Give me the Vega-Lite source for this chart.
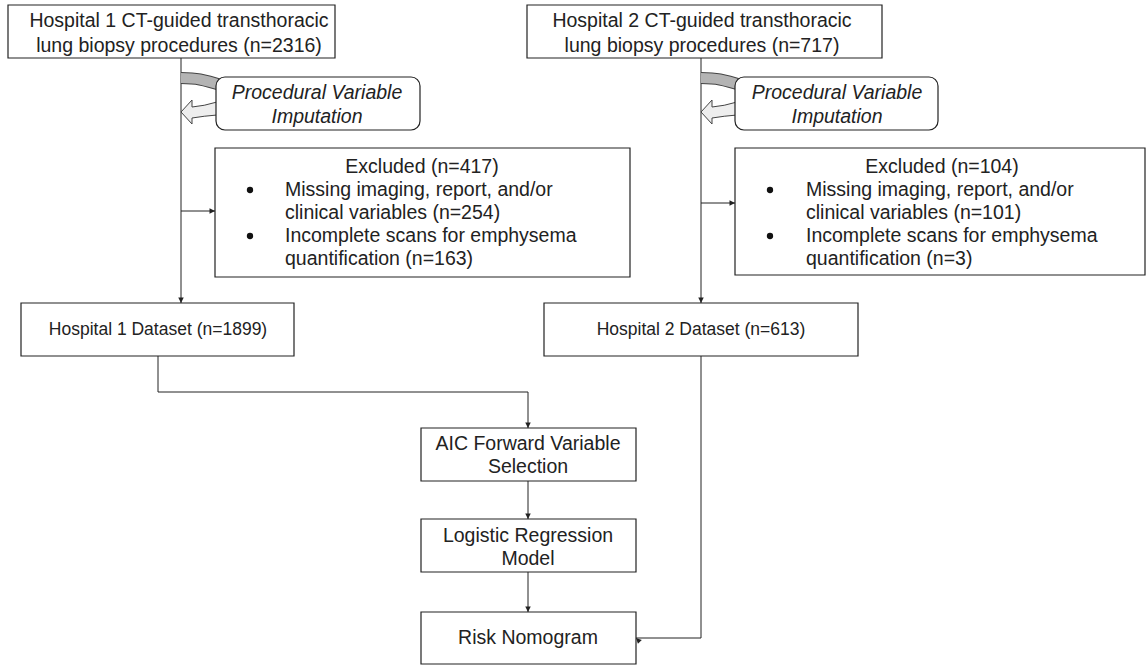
{
  "$schema": "https://vega.github.io/schema/vega-lite/v6.json",
  "width": 1146,
  "height": 665,
  "autosize": {"type": "fit", "contains": "padding"},
  "padding": 0,
  "background": "white",
  "config": {"view": {"stroke": null}},
  "datasets": {
    "boxes": [
      {"id": "b1", "x": 8, "x2": 335, "y": 5, "y2": 58},
      {"id": "b2", "x": 527, "x2": 882, "y": 5, "y2": 58},
      {"id": "ex1", "x": 215, "x2": 630, "y": 148, "y2": 277},
      {"id": "ex2", "x": 735, "x2": 1145, "y": 148, "y2": 275},
      {"id": "d1", "x": 21, "x2": 294, "y": 303, "y2": 356},
      {"id": "d2", "x": 544, "x2": 858, "y": 303, "y2": 356},
      {"id": "aic", "x": 421, "x2": 636, "y": 428, "y2": 481},
      {"id": "lr", "x": 421, "x2": 636, "y": 519, "y2": 572},
      {"id": "rn", "x": 421, "x2": 636, "y": 612, "y2": 664}
    ],
    "rounded": [
      {"id": "imp1", "x": 216, "x2": 420, "y": 77, "y2": 130},
      {"id": "imp2", "x": 735, "x2": 938, "y": 77, "y2": 130}
    ],
    "lines": [
      {"seg": "s1", "o": 1, "x": 181, "y": 58},
      {"seg": "s1", "o": 2, "x": 181, "y": 303},
      {"seg": "s1b", "o": 1, "x": 181, "y": 211},
      {"seg": "s1b", "o": 2, "x": 215, "y": 211},
      {"seg": "s2", "o": 1, "x": 701, "y": 58},
      {"seg": "s2", "o": 2, "x": 701, "y": 303},
      {"seg": "s2b", "o": 1, "x": 701, "y": 203},
      {"seg": "s2b", "o": 2, "x": 735, "y": 203},
      {"seg": "s3", "o": 1, "x": 158, "y": 356},
      {"seg": "s3", "o": 2, "x": 158, "y": 392},
      {"seg": "s3", "o": 3, "x": 528, "y": 392},
      {"seg": "s3", "o": 4, "x": 528, "y": 428},
      {"seg": "s4", "o": 1, "x": 528, "y": 481},
      {"seg": "s4", "o": 2, "x": 528, "y": 519},
      {"seg": "s5", "o": 1, "x": 528, "y": 572},
      {"seg": "s5", "o": 2, "x": 528, "y": 612},
      {"seg": "s6", "o": 1, "x": 701, "y": 356},
      {"seg": "s6", "o": 2, "x": 701, "y": 638},
      {"seg": "s6", "o": 3, "x": 636, "y": 638}
    ],
    "arrows": [
      {"x": 181, "y": 303, "dir": "down"},
      {"x": 215, "y": 211, "dir": "right"},
      {"x": 701, "y": 303, "dir": "down"},
      {"x": 735, "y": 203, "dir": "right"},
      {"x": 528, "y": 428, "dir": "down"},
      {"x": 528, "y": 519, "dir": "down"},
      {"x": 528, "y": 612, "dir": "down"},
      {"x": 636, "y": 638, "dir": "left"}
    ],
    "arcs": [
      {"arc": "a1", "o": 1, "x": 181, "y": 78},
      {"arc": "a1", "o": 2, "x": 200, "y": 79.5},
      {"arc": "a1", "o": 3, "x": 224, "y": 86},
      {"arc": "a2", "o": 1, "x": 701, "y": 78},
      {"arc": "a2", "o": 2, "x": 720, "y": 79.5},
      {"arc": "a2", "o": 3, "x": 744, "y": 86}
    ],
    "hollow": [
      {"x": 198, "y": 112},
      {"x": 718, "y": 112}
    ],
    "bullets": [
      {"x": 250, "y": 190},
      {"x": 250, "y": 236},
      {"x": 770, "y": 190},
      {"x": 770, "y": 236}
    ],
    "centerText": [
      {"x": 179, "y": 21, "label": "Hospital 1 CT-guided transthoracic"},
      {"x": 179, "y": 46, "label": "lung biopsy procedures (n=2316)"},
      {"x": 702, "y": 21, "label": "Hospital 2 CT-guided transthoracic"},
      {"x": 702, "y": 46, "label": "lung biopsy procedures (n=717)"},
      {"x": 422, "y": 167, "label": "Excluded (n=417)"},
      {"x": 942, "y": 167, "label": "Excluded (n=104)"},
      {"x": 528, "y": 444, "label": "AIC Forward Variable"},
      {"x": 528, "y": 467, "label": "Selection"},
      {"x": 528, "y": 536, "label": "Logistic Regression"},
      {"x": 528, "y": 559, "label": "Model"},
      {"x": 528, "y": 638, "label": "Risk Nomogram"}
    ],
    "datasetText": [
      {"x": 158, "y": 330, "label": "Hospital 1 Dataset (n=1899)"},
      {"x": 701, "y": 330, "label": "Hospital 2 Dataset (n=613)"}
    ],
    "italicText": [
      {"x": 317, "y": 93, "label": "Procedural Variable"},
      {"x": 317, "y": 117, "label": "Imputation"},
      {"x": 837, "y": 93, "label": "Procedural Variable"},
      {"x": 837, "y": 117, "label": "Imputation"}
    ],
    "itemText": [
      {"x": 285, "y": 190, "label": "Missing imaging, report, and/or"},
      {"x": 285, "y": 213, "label": "clinical variables (n=254)"},
      {"x": 285, "y": 236, "label": "Incomplete scans for emphysema"},
      {"x": 285, "y": 259, "label": "quantification (n=163)"},
      {"x": 806, "y": 190, "label": "Missing imaging, report, and/or"},
      {"x": 806, "y": 213, "label": "clinical variables (n=101)"},
      {"x": 806, "y": 236, "label": "Incomplete scans for emphysema"},
      {"x": 806, "y": 259, "label": "quantification (n=3)"}
    ]
  },
  "layer": [
    {
      "data": {"name": "lines"},
      "mark": {"type": "line", "stroke": "#222", "strokeWidth": 1},
      "encoding": {
        "x": {"field": "x", "type": "quantitative", "scale": {"domain": [0, 1146], "nice": false, "zero": false}, "axis": null},
        "y": {"field": "y", "type": "quantitative", "scale": {"domain": [0, 665], "nice": false, "zero": false, "reverse": true}, "axis": null},
        "detail": {"field": "seg", "type": "nominal"},
        "order": {"field": "o", "type": "quantitative"}
      }
    },
    {
      "data": {"name": "arcs"},
      "mark": {"type": "line", "stroke": "#444", "strokeWidth": 12, "strokeCap": "butt", "interpolate": "natural"},
      "encoding": {
        "x": {"field": "x", "type": "quantitative", "axis": null},
        "y": {"field": "y", "type": "quantitative", "axis": null},
        "detail": {"field": "arc", "type": "nominal"},
        "order": {"field": "o", "type": "quantitative"}
      }
    },
    {
      "data": {"name": "arcs"},
      "mark": {"type": "line", "stroke": "#b4b4b4", "strokeWidth": 10, "strokeCap": "butt", "interpolate": "natural"},
      "encoding": {
        "x": {"field": "x", "type": "quantitative", "axis": null},
        "y": {"field": "y", "type": "quantitative", "axis": null},
        "detail": {"field": "arc", "type": "nominal"},
        "order": {"field": "o", "type": "quantitative"}
      }
    },
    {
      "data": {"name": "hollow"},
      "mark": {"type": "point", "filled": true, "fill": "#eeeeee", "fillOpacity": 1, "stroke": "#444", "strokeWidth": 1, "opacity": 1, "size": 1600, "shape": "M-0.85,0L-0.3,-0.6L-0.3,-0.25Q0.3,-0.3 0.95,-0.5L0.95,0.15Q0.3,0.2 -0.3,0.3L-0.3,0.6Z"},
      "encoding": {
        "x": {"field": "x", "type": "quantitative", "axis": null},
        "y": {"field": "y", "type": "quantitative", "axis": null}
      }
    },
    {
      "data": {"name": "boxes"},
      "mark": {"type": "rect", "fill": "white", "stroke": "#222", "strokeWidth": 1.2},
      "encoding": {
        "x": {"field": "x", "type": "quantitative", "axis": null},
        "x2": {"field": "x2"},
        "y": {"field": "y", "type": "quantitative", "axis": null},
        "y2": {"field": "y2"}
      }
    },
    {
      "data": {"name": "rounded"},
      "mark": {"type": "rect", "fill": "white", "stroke": "#222", "strokeWidth": 1.2, "cornerRadius": 9},
      "encoding": {
        "x": {"field": "x", "type": "quantitative", "axis": null},
        "x2": {"field": "x2"},
        "y": {"field": "y", "type": "quantitative", "axis": null},
        "y2": {"field": "y2"}
      }
    },
    {
      "data": {"name": "arrows"},
      "mark": {"type": "point", "filled": true, "fill": "#222", "opacity": 1, "strokeWidth": 0, "size": 30, "shape": "M-1,-2L1,-2L0,0Z"},
      "encoding": {
        "x": {"field": "x", "type": "quantitative", "axis": null},
        "y": {"field": "y", "type": "quantitative", "axis": null},
        "angle": {"field": "dir", "type": "nominal", "scale": {"domain": ["down", "left", "right"], "range": [0, 270, 90]}, "legend": null}
      }
    },
    {
      "data": {"name": "bullets"},
      "mark": {"type": "point", "shape": "circle", "filled": true, "fill": "#111", "opacity": 1, "strokeWidth": 0, "size": 40},
      "encoding": {
        "x": {"field": "x", "type": "quantitative", "axis": null},
        "y": {"field": "y", "type": "quantitative", "axis": null}
      }
    },
    {
      "data": {"name": "centerText"},
      "mark": {"type": "text", "font": "Liberation Sans", "fontSize": 19.5, "fill": "#222", "align": "center", "baseline": "middle"},
      "encoding": {
        "x": {"field": "x", "type": "quantitative", "axis": null},
        "y": {"field": "y", "type": "quantitative", "axis": null},
        "text": {"field": "label", "type": "nominal"}
      }
    },
    {
      "data": {"name": "datasetText"},
      "mark": {"type": "text", "font": "Liberation Sans", "fontSize": 17.5, "fill": "#222", "align": "center", "baseline": "middle"},
      "encoding": {
        "x": {"field": "x", "type": "quantitative", "axis": null},
        "y": {"field": "y", "type": "quantitative", "axis": null},
        "text": {"field": "label", "type": "nominal"}
      }
    },
    {
      "data": {"name": "italicText"},
      "mark": {"type": "text", "font": "Liberation Sans", "fontSize": 19.5, "fontStyle": "italic", "fill": "#222", "align": "center", "baseline": "middle"},
      "encoding": {
        "x": {"field": "x", "type": "quantitative", "axis": null},
        "y": {"field": "y", "type": "quantitative", "axis": null},
        "text": {"field": "label", "type": "nominal"}
      }
    },
    {
      "data": {"name": "itemText"},
      "mark": {"type": "text", "font": "Liberation Sans", "fontSize": 19.5, "fill": "#222", "align": "left", "baseline": "middle"},
      "encoding": {
        "x": {"field": "x", "type": "quantitative", "axis": null},
        "y": {"field": "y", "type": "quantitative", "axis": null},
        "text": {"field": "label", "type": "nominal"}
      }
    }
  ]
}
